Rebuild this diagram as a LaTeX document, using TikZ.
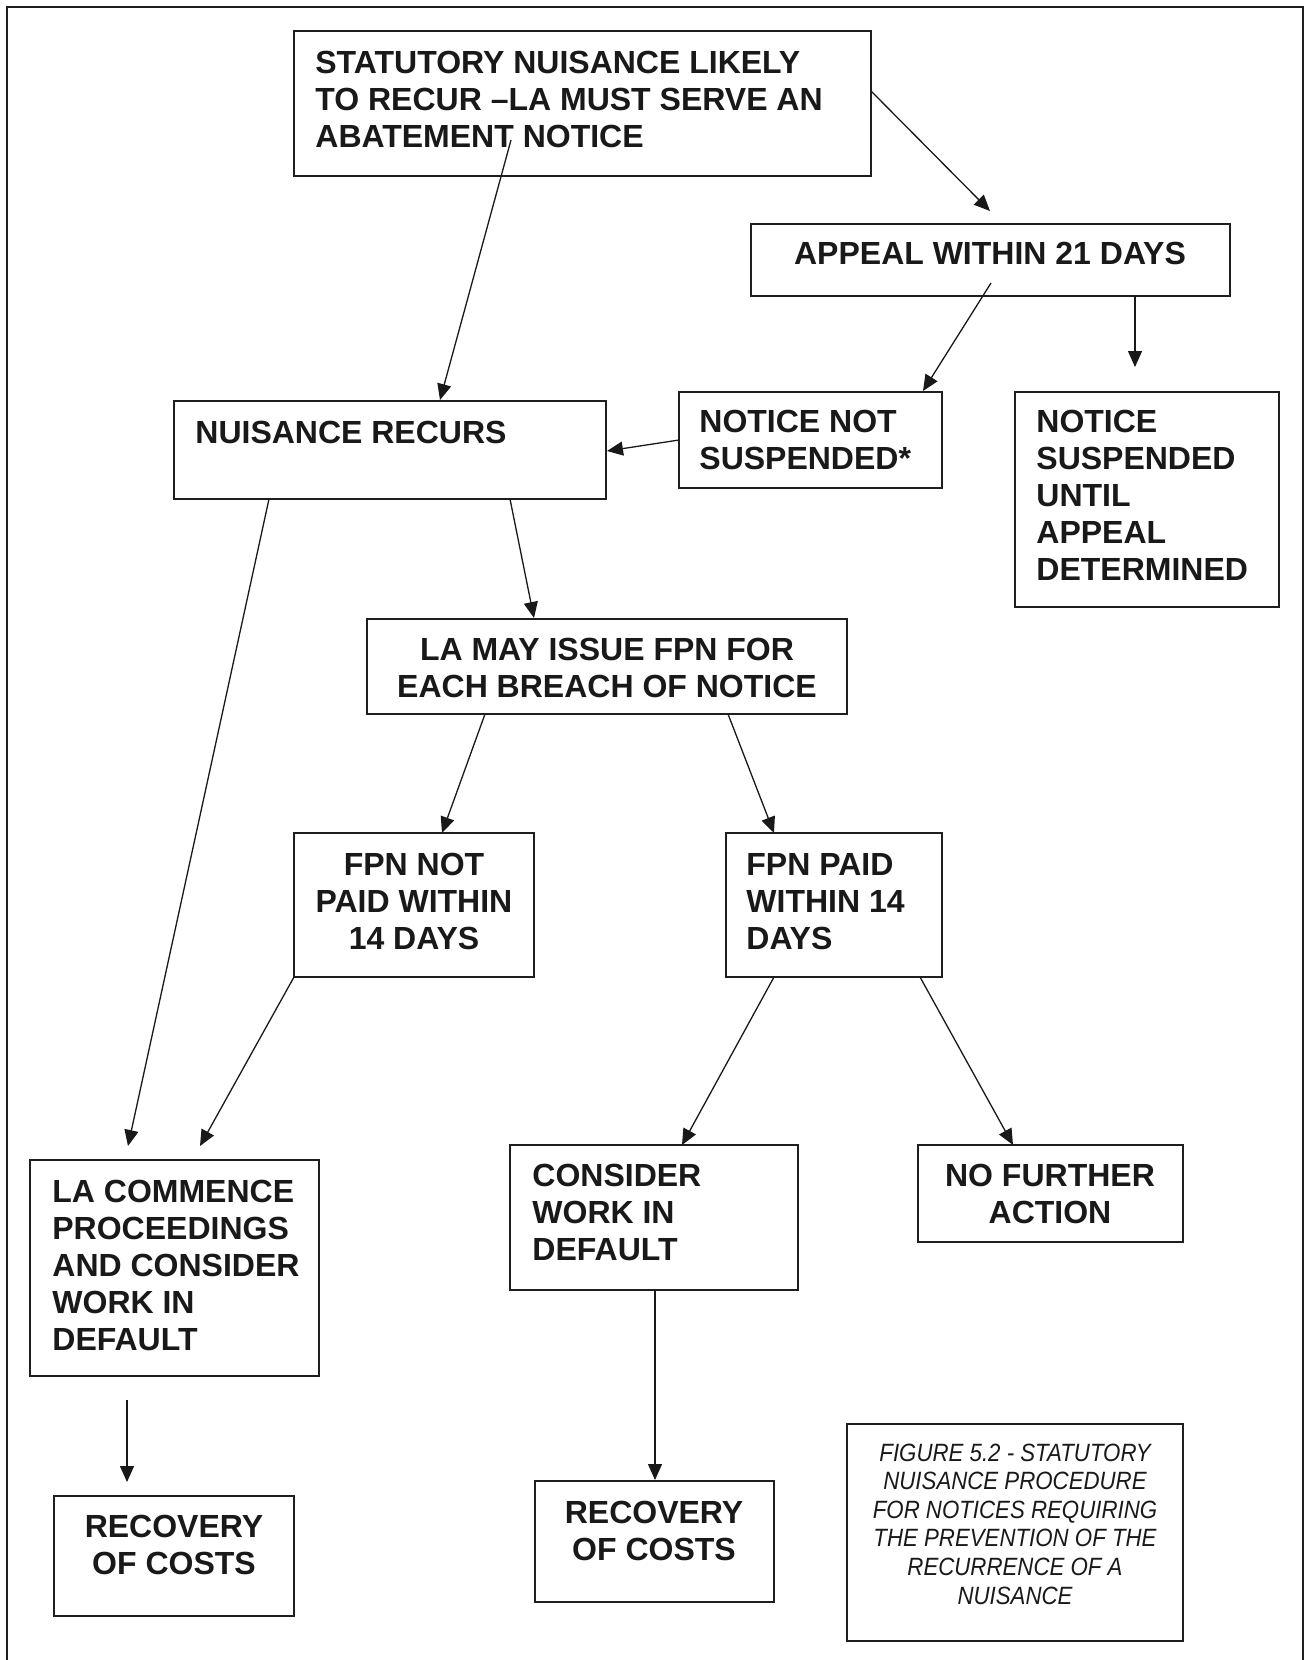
\documentclass[tikz,border=0pt]{standalone}
\usepackage{fontspec}
\setmainfont{Liberation Sans}
\newfontfamily\capfont[FakeStretch=0.89]{Liberation Sans}
\usetikzlibrary{arrows.meta,fit}
\tikzset{
 box/.style={draw=black!88, line width=1pt, inner sep=0pt},
 btxt/.style={font=\bfseries\fontsize{16}{18.5}\selectfont, inner sep=0pt, align=left, text=black!90},
 ctxt/.style={btxt, align=center},
 captxt/.style={font=\capfont\itshape\fontsize{12.5}{14.3}\selectfont, inner sep=0pt, align=center, text=black!90},
 conn/.style={-{Triangle[length=8pt,width=7pt]}, line width=0.65pt, draw=black!90},
 frame/.style={line width=1pt, draw=black!88}
}
\begin{document}
\begin{tikzpicture}[x=0.5pt,y=-0.5pt]
\useasboundingbox (0,0) rectangle (1308,1660);
\fill[white] (0,0) rectangle (1308,1660);
\draw[frame] (7,1662) -- (7,7) -- (1303,7) -- (1303,1662);

% boxes
\node[box, fit={(294,31) (871,176)}] (top) {};
\node[box, fit={(751,224) (1230,296)}] (appeal) {};
\node[box, fit={(174,401) (606,499)}] (nr) {};
\node[box, fit={(679,392) (942,488)}] (nns) {};
\node[box, fit={(1015,392) (1279,607)}] (ns) {};
\node[box, fit={(367,619) (847,714)}] (fpn) {};
\node[box, fit={(294,833) (534,977)}] (fnp) {};
\node[box, fit={(726,833) (942,977)}] (fp) {};
\node[box, fit={(30,1160) (319,1376)}] (lac) {};
\node[box, fit={(510,1145) (798,1290)}] (cwd) {};
\node[box, fit={(918,1145) (1183,1242)}] (nfa) {};
\node[box, fit={(54,1496) (294,1616)}] (rcone) {};
\node[box, fit={(535,1481) (774,1602)}] (rctwo) {};
\node[box, fit={(847,1424) (1183,1641)}] (cap) {};

% texts (anchor = baseline of the last line)
\node[btxt, anchor=base west] (topT) at (315,147) {STATUTORY NUISANCE LIKELY\\TO RECUR –LA MUST SERVE AN\\ABATEMENT NOTICE};
\node[ctxt, anchor=base] (appealT) at (990,264) {APPEAL WITHIN 21 DAYS};
\node[btxt, anchor=base west] (nrT) at (195,443) {NUISANCE RECURS};
\node[btxt, anchor=base west] (nnsT) at (699,469) {NOTICE NOT\\SUSPENDED*};
\node[btxt, anchor=base west] (nsT) at (1036,580) {NOTICE\\SUSPENDED\\UNTIL\\APPEAL\\DETERMINED};
\node[ctxt, anchor=base] (fpnT) at (607,697) {LA MAY ISSUE FPN FOR\\EACH BREACH OF NOTICE};
\node[ctxt, anchor=base] (fnpT) at (414,949) {FPN NOT\\PAID WITHIN\\14 DAYS};
\node[btxt, anchor=base west] (fpT) at (746,949) {FPN PAID\\WITHIN 14\\DAYS};
\node[btxt, anchor=base west] (lacT) at (52,1350) {LA COMMENCE\\PROCEEDINGS\\AND CONSIDER\\WORK IN\\DEFAULT};
\node[btxt, anchor=base west] (cwdT) at (532,1260) {CONSIDER\\WORK IN\\DEFAULT};
\node[ctxt, anchor=base] (nfaT) at (1050,1223) {NO FURTHER\\ACTION};
\node[ctxt, anchor=base] (rconeT) at (174,1574) {RECOVERY\\OF COSTS};
\node[ctxt, anchor=base] (rctwoT) at (654,1560) {RECOVERY\\OF COSTS};
\node[captxt, anchor=base] (capT) at (1015,1604) {FIGURE 5.2 - STATUTORY\\NUISANCE PROCEDURE\\FOR NOTICES REQUIRING\\THE PREVENTION OF THE\\RECURRENCE OF A\\NUISANCE};

% connector end points
\coordinate (a1s) at (511,140);  \coordinate (a1e) at (440,400);
\coordinate (a2s) at (871,91);   \coordinate (a2e) at (990,211);
\coordinate (a3s) at (991,283);  \coordinate (a3e) at (923,391);
\coordinate (a4s) at (1135,296); \coordinate (a4e) at (1135,367);
\coordinate (a5s) at (679,440);  \coordinate (a5e) at (607,451);
\coordinate (a6s) at (510,499);  \coordinate (a6e) at (534,618);
\coordinate (a7s) at (269,499);  \coordinate (a7e) at (128,1146);
\coordinate (a8s) at (485,714);  \coordinate (a8e) at (442,833);
\coordinate (a9s) at (728,714);  \coordinate (a9e) at (774,833);
\coordinate (a10s) at (294,977); \coordinate (a10e) at (200,1146);
\coordinate (a11s) at (774,977); \coordinate (a11e) at (682,1145);
\coordinate (a12s) at (920,977); \coordinate (a12e) at (1013,1145);
\coordinate (a13s) at (127,1400); \coordinate (a13e) at (127,1482);
\coordinate (a14s) at (655,1290); \coordinate (a14e) at (655,1480);

\foreach \i in {1,...,14} {
  \draw[conn] (a\i s) -- (a\i e);
}
\end{tikzpicture}
\end{document}
